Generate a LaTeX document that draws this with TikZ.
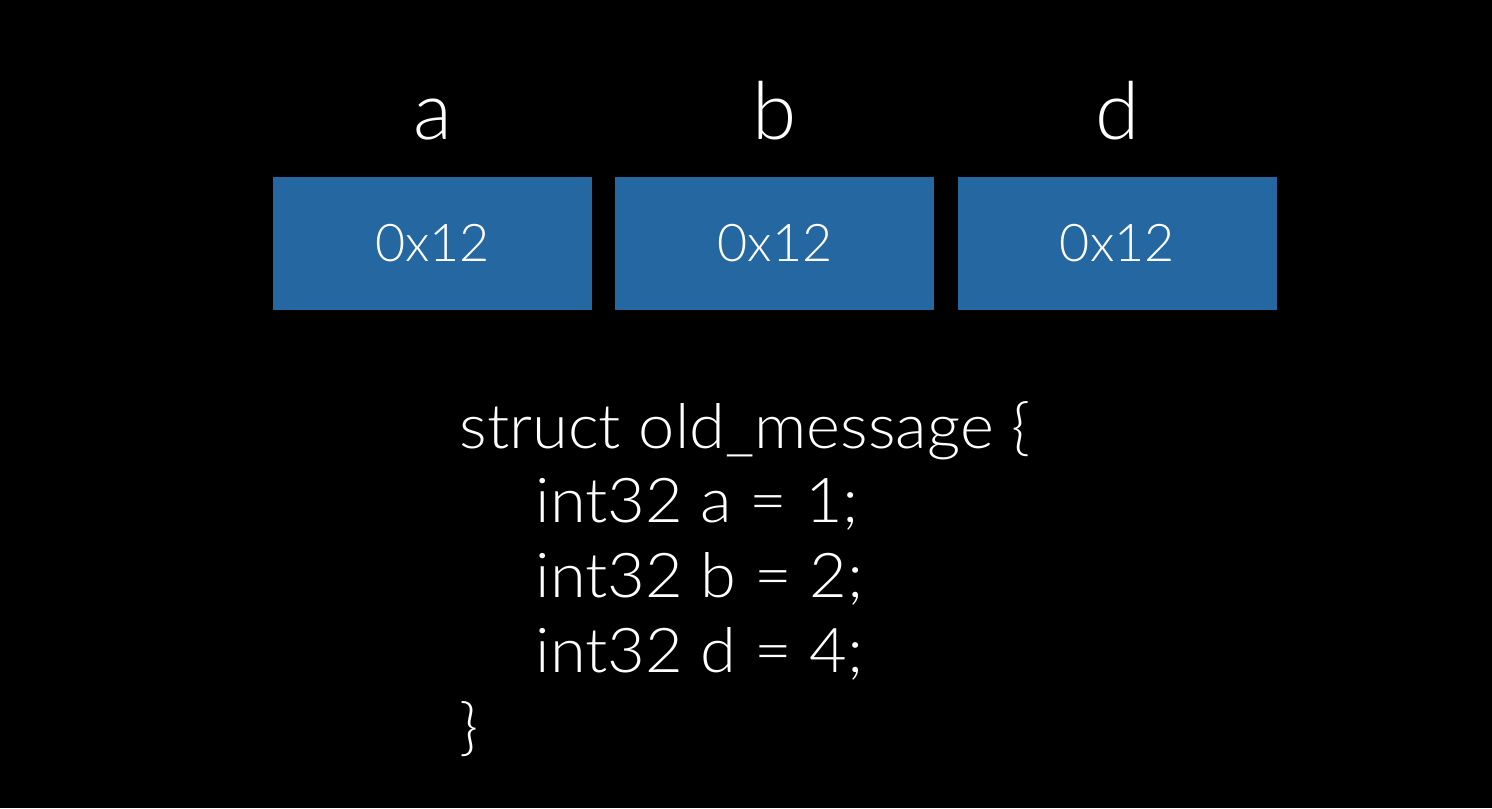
\documentclass[tikz,border=0pt]{standalone}
\usepackage{fontspec}
\setmainfont{Lato Light}
\newfontfamily\codefont{Lato Light}[FakeStretch=1.05]
\usepackage{tikz}
\usetikzlibrary{positioning}
\definecolor{cellblue}{RGB}{37,103,160}
\tikzset{
  node distance = 0.22cm,
  cell/.style = {fill = cellblue, minimum width = 3.19cm, minimum height = 1.33cm,
    inner sep = 0pt, text = white, font = \fontsize{14.8}{16}\selectfont},
  fieldname/.style = {text = white, inner sep = 0pt, font = \fontsize{22.8}{24}\selectfont},
  codeline/.style = {text = white, inner sep = 0pt, anchor = base west,
    font = \codefont\fontsize{17.6}{21}\selectfont}
}

\begin{document}
\begin{tikzpicture}
  \fill [black] (0,0) rectangle (14.92,8.08);
  \useasboundingbox (0,0) rectangle (14.92,8.08);
  % cells
  \node [cell] (a) at (4.325,5.645) {0x12};
  \node [cell, right = of a] (b) {0x12};
  \node [cell, right = of b] (d) {0x12};
  % field names
  \node [fieldname, above = 0.37cm of a, anchor = base] (na) {a};
  \node [fieldname, above = 0.37cm of b, anchor = base] (nb) {b};
  \node [fieldname, above = 0.37cm of d, anchor = base] (nd) {d};
  % definition
  \node [codeline] (l1) at (4.59,3.59) {struct old\_message \{};
  \node [codeline] (l2) at ([xshift = 0.76cm, yshift = -0.74cm] l1.base west) {int32 a = 1;};
  \node [codeline] (l3) at ([yshift = -0.75cm] l2.base west) {int32 b = 2;};
  \node [codeline] (l4) at ([yshift = -0.75cm] l3.base west) {int32 d = 4;};
  \node [codeline] (l5) at ([yshift = -2.99cm] l1.base west) {\}};
\end{tikzpicture}
\end{document}
